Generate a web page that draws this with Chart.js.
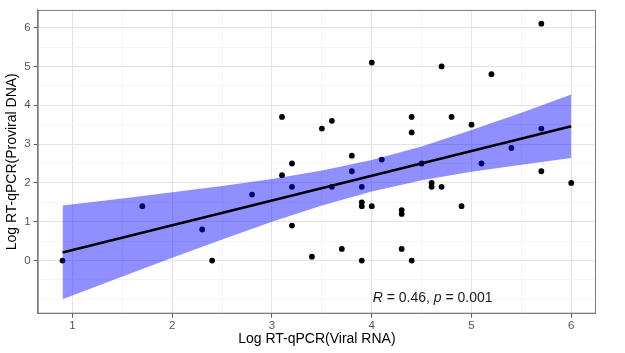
<!DOCTYPE html>
<html>
<head>
<meta charset="utf-8">
<script src="https://cdn.jsdelivr.net/npm/chart.js@4.4.1/dist/chart.umd.min.js"></script>
<style>
  html, body { margin: 0; padding: 0; background: #fff; }
  #wrap { width: 625px; height: 353px; }
</style>
</head>
<body>
<div id="wrap"><canvas id="viz" width="625" height="353"></canvas></div>
<script>
// scatter points
const viralRna = [0.9, 1.7, 2.3, 2.4, 2.8, 3.1, 3.1, 3.2, 3.2, 3.2, 3.4, 3.5, 3.6, 3.6, 3.7,
  3.8, 3.8, 3.9, 3.9, 3.9, 3.9, 4.0, 4.0, 4.1, 4.3, 4.3, 4.3, 4.4, 4.4, 4.4,
  4.5, 4.6, 4.6, 4.7, 4.7, 4.8, 4.9, 5.0, 5.1, 5.2, 5.4, 5.7, 5.7, 5.7, 6.0];
const proviralDna = [0.0, 1.4, 0.8, 0.0, 1.7, 3.7, 2.2, 2.5, 1.9, 0.9, 0.1, 3.4, 3.6, 1.9, 0.3,
  2.7, 2.3, 1.9, 1.5, 1.4, 0.0, 5.1, 1.4, 2.6, 1.3, 1.2, 0.3, 3.7, 3.3, 0.0,
  2.5, 2.0, 1.9, 5.0, 1.9, 3.7, 1.4, 3.5, 2.5, 4.8, 2.9, 6.1, 3.4, 2.3, 2.0];

// confidence ribbon edges, read at a few x positions
const bandX = [0.9, 1.5, 2.0, 2.5, 3.0, 3.5, 4.0, 4.5, 5.0, 5.5, 6.0];
const bandUpper = [1.42, 1.60, 1.76, 1.92, 2.10, 2.32, 2.59, 2.94, 3.36, 3.81, 4.28];
const bandLower = [-1.00, -0.41, 0.07, 0.54, 1.00, 1.42, 1.78, 2.07, 2.29, 2.47, 2.64];

// fitted line ends
const fitX = [0.9, 6.0];
const fitY = [0.21, 3.46];

// tick labels
const xTickLabels = [1, 2, 3, 4, 5, 6];
const yTickLabels = [0, 1, 2, 3, 4, 5, 6];

const statLabel = { x: 4.61, y: -0.96 };

const FONT = "'Liberation Sans', Arial, sans-serif";

const toPoints = (xs, ys) => xs.map((x, i) => ({ x: x, y: ys[i] }));

// major + minor positions (halfway between labels)
function gridValues(labels, extraLow) {
  let out = [];
  if (extraLow !== undefined) out.push(extraLow, extraLow + 0.5);
  for (let i = 0; i < labels.length; i++) {
    out.push(labels[i]);
    if (i < labels.length - 1) out.push((labels[i] + labels[i + 1]) / 2);
  }
  return out;
}

const isMajor = (v, labels) => labels.indexOf(v) !== -1;

// top/right panel border + the R/p text
const panelExtras = {
  id: 'panelExtras',
  afterDatasetsDraw(chart) {
    const { ctx, chartArea, scales } = chart;
    ctx.save();
    ctx.strokeStyle = '#7a7a7a';
    ctx.lineWidth = 1;
    ctx.strokeRect(chartArea.left + 0.5, chartArea.top + 0.5,
      chartArea.right - chartArea.left - 1, chartArea.bottom - chartArea.top - 1);

    const parts = [
      ['italic', 'R'], ['normal', ' = 0.46, '], ['italic', 'p'], ['normal', ' = 0.001']
    ];
    let total = 0;
    parts.forEach(p => {
      ctx.font = p[0] + ' 14px ' + FONT;
      total += ctx.measureText(p[1]).width;
    });
    let x = scales.x.getPixelForValue(statLabel.x) - total / 2;
    const y = scales.y.getPixelForValue(statLabel.y);
    ctx.fillStyle = '#1a1a1a';
    ctx.textBaseline = 'middle';
    parts.forEach(p => {
      ctx.font = p[0] + ' 14px ' + FONT;
      ctx.fillText(p[1], x, y);
      x += ctx.measureText(p[1]).width;
    });
    ctx.restore();
  }
};

function gridOpts(labels) {
  return {
    color: c => isMajor(c.tick.value, labels) ? '#e4e4e4' : '#f1f1f1',
    lineWidth: c => isMajor(c.tick.value, labels) ? 1.1 : 0.7,
    tickColor: c => isMajor(c.tick.value, labels) ? '#555' : 'rgba(0,0,0,0)',
    tickLength: 4,
    tickWidth: 1
  };
}

const ctx = document.getElementById('viz');
const chart = new Chart(ctx, {
  type: 'scatter',
  data: {
    datasets: [
      {
        data: toPoints(viralRna, proviralDna),
        pointRadius: 2.9,
        pointBackgroundColor: '#000',
        pointBorderWidth: 0,
        order: 3
      },
      {
        type: 'line',
        data: toPoints(bandX, bandUpper),
        borderWidth: 0,
        pointRadius: 0,
        fill: '+1',
        backgroundColor: 'rgba(0, 0, 255, 0.44)',
        order: 2
      },
      {
        type: 'line',
        data: toPoints(bandX, bandLower),
        borderWidth: 0,
        pointRadius: 0,
        fill: false,
        order: 2
      },
      {
        type: 'line',
        data: toPoints(fitX, fitY),
        borderColor: '#000',
        borderWidth: 2.6,
        pointRadius: 0,
        fill: false,
        order: 1
      }
    ]
  },
  options: {
    responsive: false,
    animation: false,
    layout: { padding: { top: 5, right: 29, left: 0, bottom: 0 } },
    plugins: {
      legend: { display: false },
      tooltip: { enabled: false },
      filler: { drawTime: 'beforeDatasetDraw' }
    },
    scales: {
      x: {
        type: 'linear',
        min: 0.651,
        max: 6.248,
        afterBuildTicks: s => { s.ticks = gridValues(xTickLabels).map(v => ({ value: v })); },
        afterFit: s => { s.height = 39.3; },
        grid: gridOpts(xTickLabels),
        border: { display: true, color: '#7a7a7a', width: 1 },
        ticks: {
          autoSkip: false,
          maxRotation: 0,
          padding: 1,
          color: '#555',
          font: { family: FONT, size: 11.5 },
          callback: v => isMajor(v, xTickLabels) ? String(v) : ''
        },
        title: {
          display: true,
          text: 'Log RT-qPCR(Viral RNA)',
          color: '#000',
          font: { family: FONT, size: 14 },
          padding: { top: 0, bottom: 5 }
        }
      },
      y: {
        type: 'linear',
        min: -1.369,
        max: 6.456,
        afterBuildTicks: s => { s.ticks = gridValues(yTickLabels, -1).map(v => ({ value: v })); },
        afterFit: s => { s.width = 37.7; },
        grid: gridOpts(yTickLabels),
        border: { display: true, color: '#7a7a7a', width: 1 },
        ticks: {
          autoSkip: false,
          padding: 3,
          color: '#555',
          font: { family: FONT, size: 11.5 },
          callback: v => isMajor(v, yTickLabels) ? String(v) : ''
        },
        title: {
          display: true,
          text: 'Log RT-qPCR(Proviral DNA)',
          color: '#000',
          font: { family: FONT, size: 14 },
          padding: { top: 4, bottom: 0 }
        }
      }
    }
  },
  plugins: [panelExtras]
});
</script>
</body>
</html>
